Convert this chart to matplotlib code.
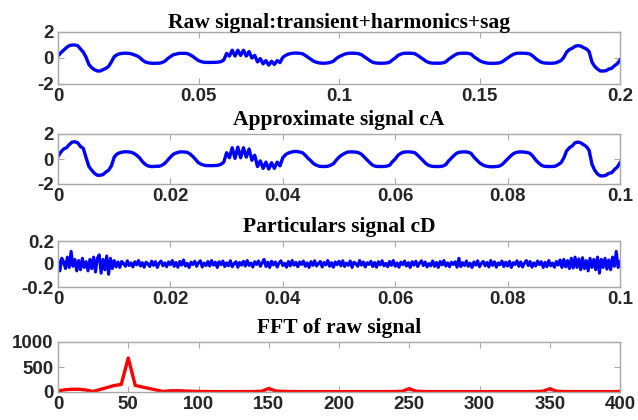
import matplotlib
matplotlib.use("Agg")
import matplotlib.pyplot as plt
import numpy as np

# ---------------- data ----------------
raw_t_end = 0.2
raw_values = [
    0.15, 0.4, 0.6, 0.8, 0.95, 1.0, 1.0, 0.95, 0.7, 0.45,
    0.05, -0.5, -0.75, -0.9, -1.0, -1.0, -0.9, -0.8, -0.65, -0.3,
    0.1, 0.25, 0.33, 0.36, 0.37, 0.36, 0.33, 0.25, 0.18, 0.05,
    -0.15, -0.3, -0.36, -0.4, -0.41, -0.4, -0.4, -0.35, -0.25, -0.05,
    0.1, 0.25, 0.3, 0.35, 0.36, 0.36, 0.34, 0.25, 0.12, -0.05,
    -0.2, -0.28, -0.33, -0.34, -0.34, -0.34, -0.33, -0.32, -0.28, -0.15,
    0.35, 0.15, 0.6, 0.15, 0.6, 0.2, 0.6, 0.15, 0.5, 0.0,
    0.2, -0.3, -0.05, -0.45, -0.2, -0.55, -0.25, -0.5, -0.2, -0.35,
    0.05, 0.2, 0.3, 0.35, 0.38, 0.38, 0.36, 0.33, 0.2, 0.05,
    -0.1, -0.25, -0.33, -0.38, -0.4, -0.4, -0.38, -0.33, -0.25, -0.05,
    0.1, 0.2, 0.3, 0.35, 0.37, 0.37, 0.36, 0.33, 0.25, 0.1,
    -0.05, -0.2, -0.33, -0.38, -0.4, -0.4, -0.4, -0.38, -0.33, -0.15,
    0.0, 0.2, 0.3, 0.36, 0.37, 0.37, 0.36, 0.33, 0.2, 0.05,
    -0.1, -0.25, -0.35, -0.39, -0.4, -0.4, -0.4, -0.37, -0.3, -0.1,
    0.05, 0.2, 0.32, 0.36, 0.37, 0.37, 0.35, 0.3, 0.1, -0.05,
    -0.2, -0.3, -0.36, -0.4, -0.41, -0.41, -0.4, -0.38, -0.3, -0.15,
    0.0, 0.15, 0.28, 0.35, 0.37, 0.37, 0.36, 0.35, 0.3, 0.15,
    -0.05, -0.2, -0.33, -0.38, -0.4, -0.4, -0.4, -0.38, -0.3, -0.2,
    0.05, 0.45, 0.65, 0.75, 0.9, 0.95, 0.92, 0.8, 0.7, 0.5,
    -0.3, -0.65, -0.85, -1.0, -1.0, -0.98, -0.85, -0.8, -0.6, -0.45,
    -0.15,
]

ca_t_end = 0.1
ca_values = [
    0.2, 0.55, 0.8, 0.9, 1.15, 1.35, 1.38, 1.3, 1.0, 0.85,
    0.1, -0.6, -0.9, -1.15, -1.3, -1.3, -1.25, -1.05, -0.9, -0.55,
    0.15, 0.4, 0.5, 0.56, 0.58, 0.57, 0.54, 0.45, 0.3, 0.1,
    -0.2, -0.42, -0.55, -0.6, -0.6, -0.58, -0.58, -0.5, -0.35, -0.1,
    0.15, 0.38, 0.48, 0.55, 0.57, 0.56, 0.53, 0.4, 0.2, -0.05,
    -0.3, -0.42, -0.5, -0.53, -0.53, -0.53, -0.52, -0.5, -0.42, -0.25,
    0.5, 0.1, 0.9, 0.05, 0.95, 0.1, 0.9, 0.15, 0.8, -0.1,
    0.3, -0.6, -0.15, -0.75, -0.25, -0.8, -0.3, -0.75, -0.25, -0.55,
    0.1, 0.35, 0.48, 0.55, 0.6, 0.6, 0.56, 0.5, 0.3, 0.05,
    -0.15, -0.38, -0.5, -0.58, -0.6, -0.6, -0.58, -0.5, -0.38, -0.1,
    0.15, 0.32, 0.45, 0.55, 0.57, 0.57, 0.55, 0.5, 0.38, 0.15,
    -0.08, -0.3, -0.5, -0.58, -0.6, -0.6, -0.6, -0.57, -0.5, -0.22,
    0.0, 0.3, 0.46, 0.55, 0.57, 0.57, 0.55, 0.5, 0.3, 0.08,
    -0.15, -0.38, -0.52, -0.58, -0.6, -0.6, -0.6, -0.56, -0.45, -0.15,
    0.08, 0.3, 0.48, 0.55, 0.57, 0.57, 0.54, 0.45, 0.15, -0.08,
    -0.3, -0.45, -0.55, -0.6, -0.62, -0.62, -0.6, -0.57, -0.45, -0.22,
    0.0, 0.22, 0.42, 0.52, 0.56, 0.57, 0.55, 0.52, 0.45, 0.22,
    -0.08, -0.3, -0.5, -0.58, -0.6, -0.6, -0.6, -0.57, -0.45, -0.3,
    0.08, 0.65, 0.9, 1.05, 1.3, 1.35, 1.3, 1.15, 1.0, 0.7,
    -0.4, -0.9, -1.2, -1.35, -1.35, -1.3, -1.15, -1.1, -0.85, -0.65,
    -0.3,
]

cd_t_end = 0.1
cd_values = [
    0.03, -0.06, 0.05, 0.02, -0.04, 0.06, -0.03, 0.11, -0.02, 0.04,
    -0.06, 0.03, -0.05, 0.05, -0.03, 0.02, -0.06, 0.04, -0.04, 0.06,
    -0.07, 0.05, 0.08, -0.08, 0.04, -0.05, 0.07, -0.09, 0.05, -0.04,
    0.03, -0.025, 0.018, -0.03, 0.022, 0.004, -0.02, 0.028, -0.014, 0.01,
    -0.026, 0.02, -0.008, 0.03, -0.018, 0.012, -0.028, 0.016, 0.002, -0.022,
    0.025, -0.012, 0.02, -0.03, 0.008, 0.026, -0.016, 0.01, -0.024, 0.018,
    -0.006, 0.03, -0.02, 0.014, -0.028, 0.022, -0.01, 0.035, -0.018, 0.006,
    -0.03, 0.016, -0.004, 0.024, -0.02, 0.012, 0.028, -0.026, 0.008, -0.014,
    0.022, -0.018, 0.03, -0.01, 0.016, -0.03, 0.02, -0.006, 0.026, -0.022,
    0.01, -0.016, 0.028, -0.024, 0.004, 0.02, -0.028, 0.014, -0.01, 0.024,
    -0.018, 0.03, -0.012, 0.008, -0.026, 0.02, -0.004, 0.026, -0.02, 0.012,
    0.04, -0.022, 0.016, -0.03, 0.024, -0.008, 0.018, -0.026, 0.01, 0.028,
    -0.014, 0.006, -0.028, 0.022, -0.016, 0.03, -0.01, 0.014, -0.024, 0.018,
    -0.004, 0.026, -0.02, 0.01, -0.03, 0.02, -0.012, 0.028, -0.018, 0.004,
    0.022, -0.026, 0.014, -0.008, 0.03, -0.02, 0.012, -0.028, 0.018, -0.006,
    0.024, -0.016, 0.028, -0.022, 0.008, -0.012, 0.026, -0.03, 0.016, 0.004,
    -0.02, 0.03, -0.01, 0.018, -0.026, 0.012, -0.004, 0.024, -0.022, 0.014,
    -0.028, 0.02, -0.008, 0.028, -0.016, 0.006, -0.024, 0.022, -0.012, 0.03,
    -0.02, 0.01, -0.028, 0.016, -0.006, 0.026, -0.018, 0.012, -0.03, 0.02,
    -0.01, 0.024, -0.022, 0.008, 0.028, -0.014, 0.018, -0.026, 0.004, -0.016,
    0.026, -0.02, 0.014, -0.03, 0.022, -0.008, 0.03, -0.018, 0.01, -0.024,
    0.016, -0.004, 0.02, -0.028, 0.05, -0.022, 0.012, -0.014, 0.026, -0.02,
    0.008, -0.03, 0.018, -0.01, 0.028, -0.024, 0.006, 0.022, -0.016, 0.014,
    -0.026, 0.03, -0.012, 0.02, -0.028, 0.01, -0.006, 0.026, -0.022, 0.016,
    -0.018, 0.024, -0.03, 0.012, -0.004, 0.028, -0.02, 0.018, -0.026, 0.008,
    0.03, -0.014, 0.022, -0.028, 0.01, -0.018, 0.026, -0.006, 0.02, -0.03,
    0.014, -0.024, 0.03, -0.016, 0.008, -0.028, 0.022, -0.01, 0.035, -0.03,
    0.04, -0.025, 0.03, -0.04, 0.05, -0.035, 0.06, -0.03, 0.045, -0.05,
    0.055, -0.04, 0.03, -0.06, 0.05, -0.03, 0.04, -0.05, 0.06, -0.08,
    0.04, -0.03, 0.05, -0.045, 0.035, -0.05, 0.06, -0.02, 0.11, -0.03,
    0.02,
]

fft_freq_step = 5
fft_values = [
    20, 45, 55, 55, 40, 10, 50, 90, 130, 150,
    680, 130, 100, 70, 40, 10, 25, 25, 20, 15,
    10, 10, 8, 8, 8, 8, 8, 8, 10, 15,
    70, 20, 12, 10, 8, 8, 8, 8, 8, 8,
    8, 8, 8, 8, 8, 8, 8, 8, 10, 15,
    65, 15, 10, 8, 8, 8, 8, 8, 8, 8,
    8, 8, 8, 8, 8, 8, 8, 8, 10, 15,
    65, 15, 10, 8, 8, 8, 8, 8, 8, 8,
    10,
]

titles = ["Raw signal:transient+harmonics+sag", "Approximate signal cA",
          "Particulars signal cD", "FFT of raw signal"]
raw_xticks = [0, 0.05, 0.1, 0.15, 0.2]
raw_xticklabels = ["0", "0.05", "0.1", "0.15", "0.2"]
dwt_xticks = [0, 0.02, 0.04, 0.06, 0.08, 0.1]
dwt_xticklabels = ["0", "0.02", "0.04", "0.06", "0.08", "0.1"]
fft_xticks = [0, 50, 100, 150, 200, 250, 300, 350, 400]
fft_xticklabels = ["0", "50", "100", "150", "200", "250", "300", "350", "400"]
sig_yticks = [-2, 0, 2]
sig_yticklabels = ["-2", "0", "2"]
cd_yticks = [-0.2, 0, 0.2]
cd_yticklabels = ["-0.2", "0", "0.2"]
fft_yticks = [0, 500, 1000]
fft_yticklabels = ["0", "500", "1000"]

# ---------------- figure ----------------
fig = plt.figure(figsize=(6.38, 4.2), dpi=100)
W, H = 638, 420
left, right = 58, 620
boxes = [(32, 84), (134, 184), (241, 287), (342, 392)]
axes = []
for top, bot in boxes:
    ax = fig.add_axes([left / W, 1 - bot / H, (right - left) / W, (bot - top) / H])
    axes.append(ax)

raw_t = np.linspace(0, raw_t_end, len(raw_values))
ca_t = np.linspace(0, ca_t_end, len(ca_values))
cd_t = np.linspace(0, cd_t_end, len(cd_values))
fft_f = np.arange(len(fft_values)) * fft_freq_step

blue = (0, 0, 1)
red = (1, 0, 0)
axes[0].plot(raw_t, raw_values, color=blue, lw=2.4)
axes[1].plot(ca_t, ca_values, color=blue, lw=2.4)
axes[2].plot(cd_t, cd_values, color=blue, lw=2.2)
axes[3].plot(fft_f, fft_values, color=red, lw=2.4)

cfg = [
    (raw_xticks, raw_xticklabels, sig_yticks, sig_yticklabels, (0, 0.2), (-2, 2)),
    (dwt_xticks, dwt_xticklabels, sig_yticks, sig_yticklabels, (0, 0.1), (-2, 2)),
    (dwt_xticks, dwt_xticklabels, cd_yticks, cd_yticklabels, (0, 0.1), (-0.2, 0.2)),
    (fft_xticks, fft_xticklabels, fft_yticks, fft_yticklabels, (0, 400), (0, 1000)),
]
tick_font = dict(family="Liberation Sans", weight="bold", size=13.5)
frame_color = "#a8a8a8"
for ax, (xt, xtl, yt, ytl, xl, yl), title in zip(axes, cfg, titles):
    ax.set_xlim(*xl)
    ax.set_ylim(*yl)
    ax.set_xticks(xt)
    ax.set_xticklabels(xtl, fontdict=tick_font, color="#262626")
    ax.set_yticks(yt)
    ax.set_yticklabels(ytl, fontdict=tick_font, color="#262626")
    ax.tick_params(direction="in", length=4, width=0.8, color=frame_color,
                   top=True, right=True, pad=3)
    for s in ax.spines.values():
        s.set_color(frame_color)
        s.set_linewidth(1.0)
    pad = 3 if title.startswith("Raw") else 6.5
    ax.set_title(title, family="Liberation Serif", weight="bold", size=15.5,
                 color="black", pad=pad)

fig.savefig("out.png", dpi=100)
